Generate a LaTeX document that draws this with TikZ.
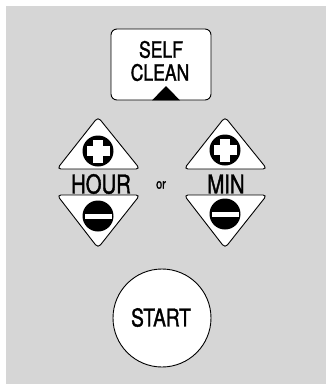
\documentclass[tikz,border=0pt]{standalone}
\usepackage{fontspec}
\setmainfont{TeX Gyre Heros}[FakeStretch=0.78,FakeBold=1.4]
\begin{document}
\begin{tikzpicture}[x=1pt,y=-1pt,
  keyshape/.style={draw=black,fill=white,line width=0.9pt,rounded corners=4pt,line join=round},
  lbl/.style={inner sep=0pt,font=\fontsize{26}{26}\selectfont},
]
\useasboundingbox (0,0) rectangle (326,384);
\fill[black!16] (6,6) rectangle (326,384);
% self clean key
\draw[keyshape,rounded corners=6pt] (111,29) rectangle (211,100);
\fill[black] (152,100.4) -- (166,86) -- (180,100.4) -- cycle;
\node[lbl,font=\fontsize{22.5}{22.5}\selectfont] (self) at (161,49.5) {SELF};
\node[lbl,font=\fontsize{22.5}{22.5}\selectfont] (clean) at (160,72.5) {CLEAN};
% hour keys
\draw[keyshape] (98,117) -- (140,169) -- (57,169) -- cycle;
\draw[keyshape] (57,195) -- (140,195) -- (98,248) -- cycle;
\fill (98,151) circle (15.5);
\fill[white] (86.5,146) rectangle (109.5,156);
\fill[white] (93,139.5) rectangle (103,162.5);
\fill (98,216) circle (15.5);
\fill[white] (84.5,213.5) rectangle (111.5,218.5);
% min keys
\draw[keyshape] (225,117) -- (267,169) -- (184,169) -- cycle;
\draw[keyshape] (184,195) -- (267,195) -- (225,248) -- cycle;
\fill (225,150) circle (15.5);
\fill[white] (213.5,145) rectangle (236.5,155);
\fill[white] (220,138.5) rectangle (230,161.5);
\fill (225,214) circle (15.5);
\fill[white] (211.5,211.5) rectangle (238.5,216.5);
% labels
\node[lbl] (hour) at (101,184) {HOUR};
\node[lbl,font=\fontsize{14}{14}\selectfont] (or) at (161,185) {or};
\node[lbl] (min) at (226,184) {MIN};
% start
\draw[draw=black,fill=white,line width=0.9pt] (162,318) circle (49);
\node[lbl,font=\fontsize{24.5}{24.5}\selectfont] (start) at (161,317.5) {START};
\end{tikzpicture}
\end{document}
